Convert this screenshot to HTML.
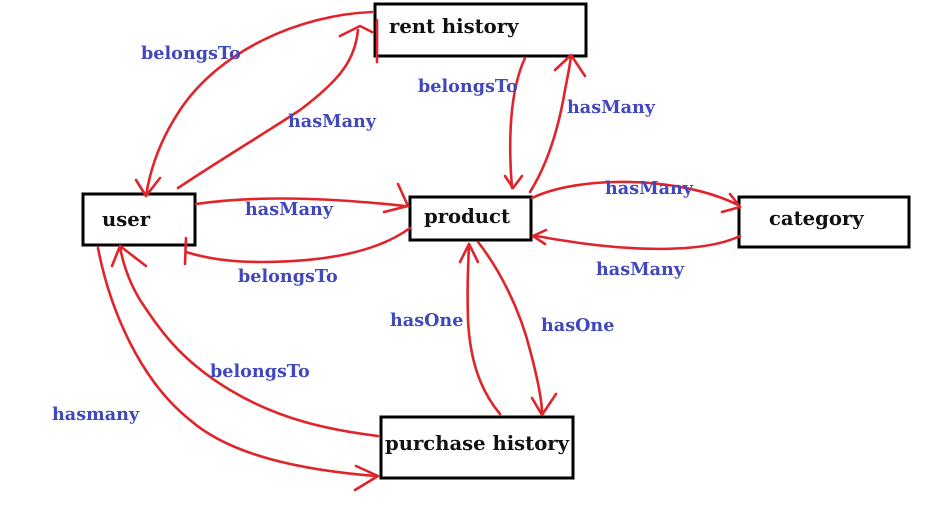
<!DOCTYPE html>
<html><head><style>
html,body{margin:0;padding:0;background:#fff;}
svg{display:block}
.b{font-family:"DejaVu Serif","Liberation Serif",serif;font-weight:bold;font-size:19.6px;fill:#111}
.l{font-family:"DejaVu Serif","Liberation Serif",serif;font-weight:bold;font-size:17.6px;fill:#4048bc}
.r{fill:none;stroke:#e0242a;stroke-width:2.6;stroke-linecap:round;stroke-linejoin:round}
</style></head><body>
<svg width="926" height="513" viewBox="0 0 926 513">
<rect width="926" height="513" fill="#fff"/>
<g fill="#fff" stroke="#000" stroke-width="3">
<rect x="375" y="4" width="211" height="52"/>
<rect x="83" y="194" width="112" height="51"/>
<rect x="410" y="197" width="121" height="43"/>
<rect x="739" y="197" width="170" height="50"/>
<rect x="381" y="417" width="192" height="61"/>
</g>
<text class="b" x="389" y="33">rent history</text>
<text class="b" x="102" y="226">user</text>
<text class="b" x="424" y="223">product</text>
<text class="b" x="769" y="225">category</text>
<text class="b" x="385" y="450">purchase history</text>
<g class="r">
<path d="M372 12 C300 15 220 50 180 110 C160 140 150 170 146 196"/>
<path d="M136 180 L146 196 L160 178"/>
<path d="M178 188 C220 160 270 130 300 110 C340 80 355 60 358 30"/>
<path d="M340 36 L360 26 L372 32"/>
<path d="M377 20 L377 62"/>
<path d="M525 58 C510 90 508 140 512 188"/>
<path d="M505 176 L513 188 L522 176"/>
<path d="M530 192 C550 160 560 120 565 90 C568 75 570 65 571 56"/>
<path d="M555 70 L571 55 L585 76"/>
<path d="M196 204 C260 195 330 198 405 206"/>
<path d="M398 184 L408 206 L384 212"/>
<path d="M410 228 C380 250 330 262 260 262 C230 262 205 258 186 252"/>
<path d="M186 238 L185 264"/>
<path d="M532 198 C580 175 680 176 738 205"/>
<path d="M730 194 L740 207 L722 212"/>
<path d="M740 236 C700 255 620 250 560 240 C545 238 540 236 534 236"/>
<path d="M546 230 L533 236 L545 244"/>
<path d="M500 414 C480 390 470 360 468 320 C467 290 468 270 469 244"/>
<path d="M460 262 L469 244 L478 262"/>
<path d="M478 242 C500 270 520 310 530 350 C538 380 542 400 542 414"/>
<path d="M532 398 L542 415 L556 394"/>
<path d="M378 436 C330 430 280 420 230 390 C180 360 160 330 140 300 C128 280 122 260 120 246"/>
<path d="M112 266 L120 246 L146 266"/>
<path d="M98 248 C110 310 140 380 190 420 C230 455 300 470 376 476"/>
<path d="M356 466 L378 476 L355 490"/>
</g>
<text class="l" x="141" y="59">belongsTo</text>
<text class="l" x="288" y="127">hasMany</text>
<text class="l" x="418" y="92">belongsTo</text>
<text class="l" x="567" y="113">hasMany</text>
<text class="l" x="245" y="215">hasMany</text>
<text class="l" x="238" y="282">belongsTo</text>
<text class="l" x="605" y="194">hasMany</text>
<text class="l" x="596" y="275">hasMany</text>
<text class="l" x="390" y="326">hasOne</text>
<text class="l" x="541" y="331">hasOne</text>
<text class="l" x="210" y="377">belongsTo</text>
<text class="l" x="52" y="420">hasmany</text>
</svg>
</body></html>
